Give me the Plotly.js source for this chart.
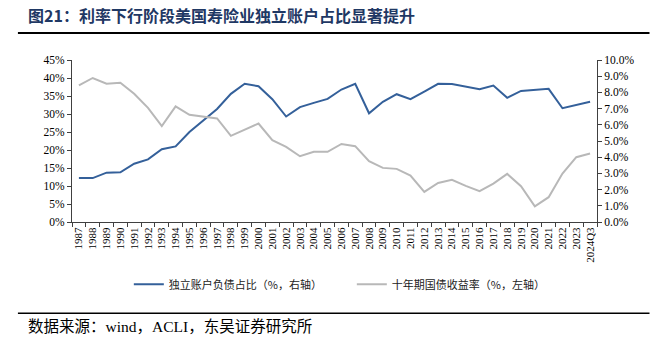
<!DOCTYPE html>
<html><head><meta charset="utf-8">
<script src="https://cdn.plot.ly/plotly-3.0.1.min.js"></script>
<style>html,body{margin:0;padding:0;background:#fff}#chart{width:670px;height:338px}</style>
</head><body><div id="chart"></div>
<script>
const years = ['1987','1988','1989','1990','1991','1992','1993','1994','1995','1996','1997','1998','1999','2000','2001','2002','2003','2004','2005','2006','2007','2008','2009','2010','2011','2012','2013','2014','2015','2016','2017','2018','2019','2020','2021','2022','2023','2024Q3'];
// 独立账户负债占比 (%), plotted against the left axis
const separateAccountShare = [12.2,12.2,13.7,13.8,16.2,17.4,20.2,21.0,25.0,28.1,31.4,35.6,38.4,37.7,34.1,29.3,31.9,33.1,34.2,36.8,38.4,30.2,33.4,35.5,34.1,36.2,38.4,38.3,37.6,36.9,37.9,34.5,36.4,36.6,37.0,31.6,32.4,33.4];
// 十年期国债收益率 (%), plotted against the right axis
const treasury10y = [8.44,8.89,8.54,8.60,7.92,7.05,5.92,7.14,6.62,6.50,6.39,5.32,5.69,6.08,5.05,4.64,4.06,4.33,4.33,4.82,4.68,3.75,3.34,3.28,2.87,1.86,2.41,2.60,2.23,1.90,2.37,2.97,2.21,0.97,1.53,2.99,4.00,4.23];
const leftTicks = [0,5,10,15,20,25,30,35,40,45];
const rightTicks = [0,1,2,3,4,5,6,7,8,9,10];

const serif = "'Liberation Serif', 'Times New Roman', 'Noto Sans CJK SC', serif";
const cjk = "'Noto Sans CJK SC', sans-serif";
const mixed = "'Liberation Serif', 'Noto Sans CJK SC', serif";

const traces = [
  {x: years, y: separateAccountShare, type: 'scatter', mode: 'lines', name: '独立账户负债占比（%，右轴）',
   line: {color: '#34609A', width: 2}, yaxis: 'y'},
  {x: years, y: treasury10y, type: 'scatter', mode: 'lines', name: '十年期国债收益率（%，左轴）',
   line: {color: '#B8B8B8', width: 2}, yaxis: 'y2'}
];

const axisCommon = {showgrid: false, zeroline: false, showline: true, linecolor: '#404040', linewidth: 1,
  ticks: 'outside', ticklen: 4, tickcolor: '#404040', tickfont: {family: serif, size: 11.5, color: '#000'}};

const layout = {
  width: 670, height: 338,
  margin: {l: 72, r: 73, t: 60, b: 116.3},
  paper_bgcolor: '#fff', plot_bgcolor: '#fff',
  showlegend: true,
  legend: {orientation: 'h', x: 0.533, xanchor: 'center', y: -0.385, yanchor: 'middle',
    font: {family: cjk, size: 11, color: '#222'}, entrywidth: 178, entrywidthmode: 'pixels'},
  xaxis: Object.assign({}, axisCommon, {type: 'category', tickangle: -90, tickson: 'boundaries',
    range: [-0.5, years.length - 0.5], autorange: false, tickmode: 'array', tickvals: years, ticktext: years,
    tickfont: {family: serif, size: 11, color: '#000'}}),
  yaxis: Object.assign({}, axisCommon, {range: [0, 45], tickvals: leftTicks,
    ticktext: leftTicks.map(v => v + '%')}),
  yaxis2: Object.assign({}, axisCommon, {overlaying: 'y', side: 'right', range: [0, 10], tickvals: rightTicks,
    ticktext: rightTicks.map(v => v.toFixed(1) + '%')}),
  shapes: [
    {type: 'line', xref: 'paper', yref: 'paper', x0: -0.103, x1: 1.10, y0: 1.166, y1: 1.166, line: {color: '#000', width: 2}},
    {type: 'line', xref: 'paper', yref: 'paper', x0: -0.103, x1: 1.10, y0: -0.564, y1: -0.564, line: {color: '#000', width: 1.5}}
  ],
  annotations: [
    {xref: 'paper', yref: 'paper', x: -0.087, y: 1.275, xanchor: 'left', yanchor: 'middle', showarrow: false,
     text: '<b>图21：利率下行阶段美国寿险业独立账户占比显著提升</b>', font: {family: cjk, size: 16, color: '#1F3864'}},
    {xref: 'paper', yref: 'paper', x: -0.087, y: -0.645, xanchor: 'left', yanchor: 'middle', showarrow: false,
     text: '数据来源：wind，ACLI，东吴证券研究所', font: {family: mixed, size: 15.5, color: '#000'}}
  ]
};

Plotly.newPlot('chart', traces, layout, {displayModeBar: false, staticPlot: true});
</script></body></html>
